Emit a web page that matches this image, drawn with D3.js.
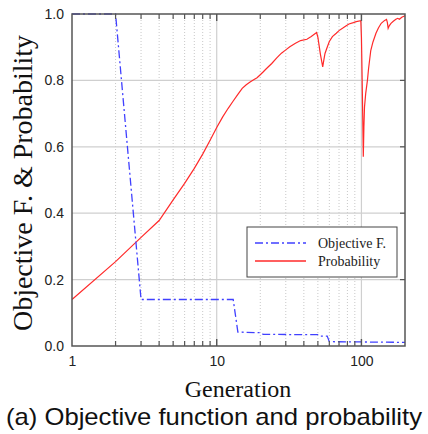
<!DOCTYPE html>
<html>
<head>
<meta charset="utf-8">
<script src="https://cdnjs.cloudflare.com/ajax/libs/d3/7.8.5/d3.min.js"></script>
<style>
  body { margin: 0; background: #fff; }
  svg { display: block; }
  .tick-lbl text { font-family: "Liberation Sans", Arial, sans-serif; font-size: 14px; fill: #222; }
  .axis path { display: none; }
</style>
</head>
<body>
<div id="chart"></div>
<script>
// Objective function (dash-dot blue)
const objGen = [1, 2, 3, 13, 14, 20, 21, 50, 52, 58, 60, 200];
const objVal = [1.0, 1.0, 0.14, 0.14, 0.042, 0.040, 0.035, 0.034, 0.030, 0.030, 0.013, 0.011];

// Probability (solid red)
const probGen = [1, 2, 3, 4, 5, 6, 7, 8, 9, 10, 11, 12, 13, 14, 15, 16, 17, 18, 19, 20,
  21, 22, 24, 26, 28, 30, 32, 35, 38, 42, 45, 49, 50, 52, 54, 55, 56, 58, 60, 63, 67, 70,
  74, 78, 82, 88, 92, 99, 100, 101, 102, 103, 104, 105, 107, 110, 112, 116, 120, 126, 131,
  137, 144, 149, 151, 153, 156, 160, 166, 173, 178, 183, 190, 200];
const probVal = [0.14, 0.254, 0.327, 0.378, 0.44, 0.49, 0.535, 0.578, 0.62, 0.658, 0.69, 0.716,
  0.738, 0.758, 0.776, 0.787, 0.795, 0.802, 0.808, 0.817, 0.826, 0.835, 0.851, 0.868, 0.882,
  0.892, 0.901, 0.912, 0.920, 0.924, 0.932, 0.944, 0.93, 0.88, 0.841, 0.862, 0.881, 0.90, 0.917,
  0.932, 0.942, 0.950, 0.957, 0.964, 0.970, 0.974, 0.977, 0.980, 0.93, 0.82, 0.70, 0.57, 0.66,
  0.72, 0.76, 0.80, 0.835, 0.89, 0.915, 0.942, 0.958, 0.972, 0.980, 0.984, 0.975, 0.957, 0.965,
  0.972, 0.978, 0.984, 0.987, 0.984, 0.99, 0.995];

const xMajor = [1, 10, 100];
const xMinor = [2, 3, 4, 5, 6, 7, 8, 9, 20, 30, 40, 50, 60, 70, 80, 90, 200];
const yTicks = [0, 0.2, 0.4, 0.6, 0.8, 1.0];

const W = 428, H = 434;
const margin = { top: 14, right: 23, bottom: 88, left: 72 };
const w = W - margin.left - margin.right;
const h = H - margin.top - margin.bottom;

const svg = d3.select('#chart').append('svg')
  .attr('width', W).attr('height', H);
const g = svg.append('g')
  .attr('transform', `translate(${margin.left},${margin.top})`);

const x = d3.scaleLog().domain([1, 200]).range([0, w]);
const y = d3.scaleLinear().domain([0, 1]).range([h, 0]);

// Grid
g.append('g').selectAll('line')
  .data(xMinor.filter(d => d < 200))
  .join('line')
  .attr('x1', d => x(d)).attr('x2', d => x(d))
  .attr('y1', 0).attr('y2', h)
  .attr('stroke', '#c8c8c8').attr('stroke-width', 1)
  .attr('stroke-dasharray', '1,2');

g.append('g').selectAll('line')
  .data(xMajor.slice(1))
  .join('line')
  .attr('x1', d => x(d)).attr('x2', d => x(d))
  .attr('y1', 0).attr('y2', h)
  .attr('stroke', '#cfcfcf').attr('stroke-width', 1.2);

g.append('g').selectAll('line')
  .data(yTicks.slice(1, -1))
  .join('line')
  .attr('x1', 0).attr('x2', w)
  .attr('y1', d => y(d)).attr('y2', d => y(d))
  .attr('stroke', '#cfcfcf').attr('stroke-width', 1.2);

// Lines
const lineGen = d3.line().x(d => x(d[0])).y(d => y(d[1]));

g.append('path')
  .datum(probGen.map((d, i) => [d, probVal[i]]))
  .attr('d', lineGen)
  .attr('fill', 'none')
  .attr('stroke', '#ff2a2a').attr('stroke-width', 1.2);

g.append('path')
  .datum(objGen.map((d, i) => [d, objVal[i]]))
  .attr('d', lineGen)
  .attr('fill', 'none')
  .attr('stroke', '#4040ff').attr('stroke-width', 1.3)
  .attr('stroke-dasharray', '8,3,2,3');

// Inner ticks: top and bottom
const tickCol = '#555';
[[0, 1], [h, -1]].forEach(([yy, dir]) => {
  g.append('g').selectAll('line')
    .data(xMinor.filter(d => d < 200))
    .join('line')
    .attr('x1', d => x(d)).attr('x2', d => x(d))
    .attr('y1', yy).attr('y2', yy + dir * 5)
    .attr('stroke', tickCol).attr('stroke-width', 1.2);
  g.append('g').selectAll('line')
    .data(xMajor.slice(1))
    .join('line')
    .attr('x1', d => x(d)).attr('x2', d => x(d))
    .attr('y1', yy).attr('y2', yy + dir * 7)
    .attr('stroke', tickCol).attr('stroke-width', 1.4);
});

// Right ticks
g.append('g').selectAll('line')
  .data(yTicks.slice(1, -1))
  .join('line')
  .attr('x1', w).attr('x2', w - 5)
  .attr('y1', d => y(d)).attr('y2', d => y(d))
  .attr('stroke', tickCol).attr('stroke-width', 1.2);

// Frame
g.append('rect')
  .attr('width', w).attr('height', h)
  .attr('fill', 'none')
  .attr('stroke', '#555').attr('stroke-width', 1.5);

// Tick labels
g.append('g')
  .attr('class', 'axis tick-lbl')
  .attr('transform', `translate(0,${h})`)
  .call(d3.axisBottom(x).tickValues(xMajor).tickFormat(d3.format('d')).tickSize(0).tickPadding(10));

g.append('g')
  .attr('class', 'axis tick-lbl')
  .call(d3.axisLeft(y).tickValues(yTicks).tickFormat(d3.format('.1f')).tickSize(0).tickPadding(8));

// Axis titles
svg.append('text')
  .attr('x', 238).attr('y', 397)
  .attr('text-anchor', 'middle')
  .attr('font-family', '"Liberation Serif", "Times New Roman", serif')
  .attr('font-size', 24).attr('fill', '#111')
  .text('Generation');

svg.append('text')
  .attr('transform', 'translate(32,183) rotate(-90)')
  .attr('text-anchor', 'middle')
  .attr('textLength', 296).attr('lengthAdjust', 'spacingAndGlyphs')
  .attr('font-family', '"Liberation Serif", "Times New Roman", serif')
  .attr('font-size', 27).attr('fill', '#111')
  .text('Objective F. & Probability');

svg.append('text')
  .attr('x', 6).attr('y', 425)
  .attr('textLength', 416).attr('lengthAdjust', 'spacingAndGlyphs')
  .attr('font-family', '"Liberation Sans", Arial, sans-serif')
  .attr('font-size', 24).attr('fill', '#111')
  .text('(a) Objective function and probability');

// Legend
const lg = svg.append('g').attr('transform', 'translate(247,227)');
lg.append('rect')
  .attr('width', 150).attr('height', 50)
  .attr('fill', '#fff').attr('stroke', '#444').attr('stroke-width', 1);
const legendItems = [
  { label: 'Objective F.', color: '#4040ff', dash: '8,3,2,3' },
  { label: 'Probability', color: '#ff2a2a', dash: null }
];
legendItems.forEach((c, i) => {
  const yy = 16 + i * 18;
  lg.append('line')
    .attr('x1', 8).attr('x2', 59).attr('y1', yy).attr('y2', yy)
    .attr('stroke', c.color).attr('stroke-width', 1.3)
    .attr('stroke-dasharray', c.dash);
  lg.append('text')
    .attr('x', 71).attr('y', yy + 5)
    .attr('font-family', '"Liberation Serif", "Times New Roman", serif')
    .attr('font-size', 14).attr('fill', '#222')
    .text(c.label);
});
</script>
</body>
</html>
